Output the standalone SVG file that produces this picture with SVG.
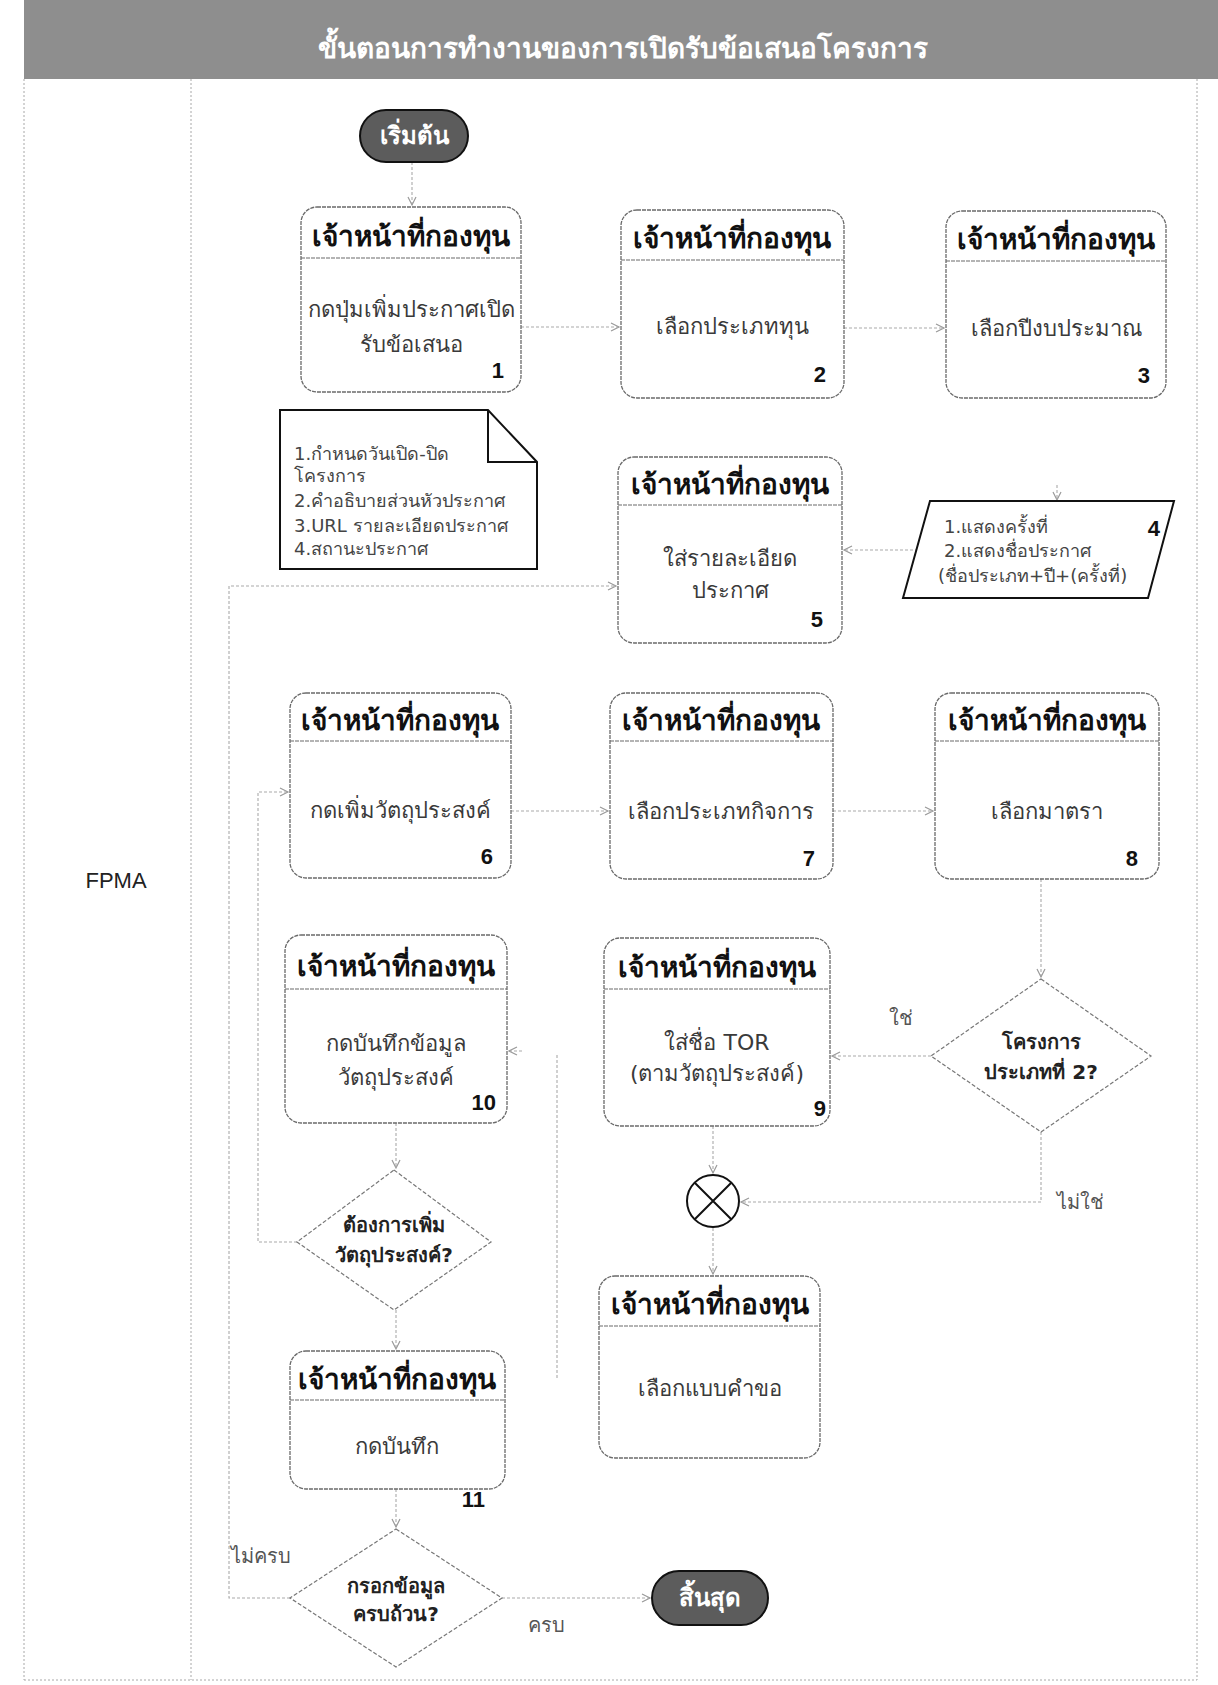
<svg xmlns="http://www.w3.org/2000/svg" width="1218" height="1685" viewBox="0 0 1218 1685">
<defs>
<marker id="arr" markerWidth="12" markerHeight="12" refX="10" refY="6" orient="auto" markerUnits="userSpaceOnUse">
<path d="M2,2 L10,6 L2,10" fill="none" stroke="#9a9a9a" stroke-width="1.2"/>
</marker>
</defs>
<style>
.lane{fill:none;stroke:#a8a8a8;stroke-width:1;stroke-dasharray:2 2}
.box{fill:#fff;stroke:#6a6a6a;stroke-width:1.3;stroke-dasharray:4 1}
.div{stroke:#6a6a6a;stroke-width:1.2;stroke-dasharray:4 1}
.t{font-family:"DejaVu Sans","Noto Sans",sans-serif}
.hdr{font-weight:bold;font-size:28px;fill:#111;text-anchor:middle}
.body{font-size:22px;fill:#3a3a3a;text-anchor:middle}
.num{font-family:"Liberation Sans",Arial,sans-serif;font-weight:bold;font-size:22px;fill:#111;text-anchor:end}
.dia{fill:#fff;stroke:#777;stroke-width:1.2;stroke-dasharray:4 2}
.dtxt{font-weight:bold;font-size:20px;fill:#222;text-anchor:middle}
.note{font-size:18px;fill:#444}
.lbl{font-size:20px;fill:#555}
.conn{fill:none;stroke:#aaa;stroke-width:1.1;stroke-dasharray:3 2;marker-end:url(#arr)}
.plain{fill:none;stroke:#aaa;stroke-width:1.1;stroke-dasharray:3 2}
.term{fill:#5c5c5c;stroke:#111;stroke-width:2}
.ttxt{font-weight:bold;font-size:24px;fill:#fff;text-anchor:middle}
</style>
<rect x="0" y="0" width="1218" height="1685" fill="#fff"/>
<g id="title">
<rect x="24" y="0" width="1194" height="79" fill="#8e8e8e"/>
<text class="t" x="623" y="58" font-size="28" font-weight="bold" fill="#fff" text-anchor="middle">ขั้นตอนการทำงานของการเปิดรับข้อเสนอโครงการ</text>
</g>
<g id="lane">
<line class="lane" x1="24" y1="79" x2="24" y2="1680"/>
<line class="lane" x1="191" y1="79" x2="191" y2="1680"/>
<line class="lane" x1="1197" y1="79" x2="1197" y2="1680"/>
<line class="lane" x1="24" y1="1680" x2="1197" y2="1680"/>
<text x="116" y="888" font-size="22" fill="#222" text-anchor="middle" font-family="Liberation Sans,Arial,sans-serif">FPMA</text>
</g>
<g id="connectors">
<path class="conn" d="M412,162 V205"/>
<path class="conn" d="M521,327 H619"/>
<path class="conn" d="M844,328 H944"/>
<path class="conn" d="M1057,485 V500"/>
<path class="conn" d="M918,550 H844"/>
<path class="conn" d="M511,811 H608"/>
<path class="conn" d="M833,811 H933"/>
<path class="conn" d="M1041,879 V977"/>
<path class="conn" d="M931,1056 H832"/>
<path class="conn" d="M1041,1132 V1202 H741"/>
<path class="conn" d="M713,1126 V1173"/>
<path class="conn" d="M713,1228 V1274"/>
<path class="plain" d="M557,1378 V1053"/>
<path class="conn" d="M522,1051 H509"/>
<path class="conn" d="M396,1123 V1168"/>
<path class="conn" d="M297,1242 H258 V792 H288"/>
<path class="conn" d="M396,1310 V1349"/>
<path class="conn" d="M396,1489 V1527"/>
<path class="conn" d="M290,1598 H229 V586 H616"/>
<path class="conn" d="M502,1598 H650"/>
<text class="t lbl" x="901" y="1025" text-anchor="middle">ใช่</text>
<text class="t lbl" x="1080" y="1209" text-anchor="middle">ไม่ใช่</text>
<text class="t lbl" x="261" y="1563" text-anchor="middle">ไม่ครบ</text>
<text class="t lbl" x="546" y="1632" text-anchor="middle">ครบ</text>
</g>
<g id="start">
<rect class="term" x="360" y="110" width="108" height="52" rx="26"/>
<text class="t ttxt" x="414" y="144">เริ่มต้น</text>
</g>
<g id="n1">
<rect class="box" x="301" y="207" width="220" height="185" rx="16"/>
<line class="div" x1="301" y1="258" x2="521" y2="258"/>
<text class="t hdr" x="411" y="246">เจ้าหน้าที่กองทุน</text>
<text class="t body" x="411" y="317">กดปุ่มเพิ่มประกาศเปิด</text>
<text class="t body" x="411" y="352">รับข้อเสนอ</text>
<text class="num" x="504" y="378">1</text>
</g>
<g id="n2">
<rect class="box" x="621" y="210" width="223" height="188" rx="16"/>
<line class="div" x1="621" y1="260" x2="844" y2="260"/>
<text class="t hdr" x="732" y="248">เจ้าหน้าที่กองทุน</text>
<text class="t body" x="732" y="334">เลือกประเภททุน</text>
<text class="num" x="826" y="382">2</text>
</g>
<g id="n3">
<rect class="box" x="946" y="211" width="220" height="187" rx="16"/>
<line class="div" x1="946" y1="261" x2="1166" y2="261"/>
<text class="t hdr" x="1056" y="249">เจ้าหน้าที่กองทุน</text>
<text class="t body" x="1056" y="336">เลือกปีงบประมาณ</text>
<text class="num" x="1150" y="383">3</text>
</g>
<g id="note">
<path d="M280,410 H488 L537,462 V569 H280 Z" fill="#fff" stroke="#111" stroke-width="2"/>
<path d="M488,410 V462 H537" fill="none" stroke="#111" stroke-width="2"/>
<text class="t note" x="294" y="460">1.กำหนดวันเปิด-ปิด</text>
<text class="t note" x="294" y="482">โครงการ</text>
<text class="t note" x="294" y="507">2.คำอธิบายส่วนหัวประกาศ</text>
<text class="t note" x="294" y="532">3.URL รายละเอียดประกาศ</text>
<text class="t note" x="294" y="555">4.สถานะประกาศ</text>
</g>
<g id="n4">
<path d="M930,501 H1174 L1148,598 H903 Z" fill="#fff" stroke="#111" stroke-width="2"/>
<text class="t note" x="944" y="533">1.แสดงครั้งที่</text>
<text class="t note" x="944" y="557">2.แสดงชื่อประกาศ</text>
<text class="t note" x="938" y="582">(ชื่อประเภท+ปี+(ครั้งที่)</text>
<text class="num" x="1160" y="536">4</text>
</g>
<g id="n5">
<rect class="box" x="618" y="457" width="224" height="186" rx="16"/>
<line class="div" x1="618" y1="505" x2="842" y2="505"/>
<text class="t hdr" x="730" y="494">เจ้าหน้าที่กองทุน</text>
<text class="t body" x="730" y="566">ใส่รายละเอียด</text>
<text class="t body" x="730" y="598">ประกาศ</text>
<text class="num" x="823" y="627">5</text>
</g>
<g id="n6">
<rect class="box" x="290" y="693" width="221" height="185" rx="16"/>
<line class="div" x1="290" y1="741" x2="511" y2="741"/>
<text class="t hdr" x="400" y="730">เจ้าหน้าที่กองทุน</text>
<text class="t body" x="400" y="818">กดเพิ่มวัตถุประสงค์</text>
<text class="num" x="493" y="864">6</text>
</g>
<g id="n7">
<rect class="box" x="610" y="693" width="223" height="186" rx="16"/>
<line class="div" x1="610" y1="741" x2="833" y2="741"/>
<text class="t hdr" x="721" y="730">เจ้าหน้าที่กองทุน</text>
<text class="t body" x="721" y="819">เลือกประเภทกิจการ</text>
<text class="num" x="815" y="866">7</text>
</g>
<g id="n8">
<rect class="box" x="935" y="693" width="224" height="186" rx="16"/>
<line class="div" x1="935" y1="741" x2="1159" y2="741"/>
<text class="t hdr" x="1047" y="730">เจ้าหน้าที่กองทุน</text>
<text class="t body" x="1047" y="819">เลือกมาตรา</text>
<text class="num" x="1138" y="866">8</text>
</g>
<g id="d1">
<path class="dia" d="M1041,979 L1151,1056 L1041,1132 L931,1056 Z"/>
<text class="t dtxt" x="1041" y="1049">โครงการ</text>
<text class="t dtxt" x="1041" y="1079">ประเภทที่ 2?</text>
</g>
<g id="n9">
<rect class="box" x="604" y="938" width="226" height="188" rx="16"/>
<line class="div" x1="604" y1="989" x2="830" y2="989"/>
<text class="t hdr" x="717" y="977">เจ้าหน้าที่กองทุน</text>
<text class="t body" x="717" y="1050">ใส่ชื่อ TOR</text>
<text class="t body" x="717" y="1081">(ตามวัตถุประสงค์)</text>
<text class="num" x="826" y="1116">9</text>
</g>
<g id="merge">
<circle cx="713" cy="1201" r="26" fill="#fff" stroke="#111" stroke-width="2"/>
<path d="M695,1183 L731,1219 M731,1183 L695,1219" stroke="#111" stroke-width="2"/>
</g>
<g id="n12">
<rect class="box" x="599" y="1276" width="221" height="182" rx="16"/>
<line class="div" x1="599" y1="1326" x2="820" y2="1326"/>
<text class="t hdr" x="710" y="1314">เจ้าหน้าที่กองทุน</text>
<text class="t body" x="710" y="1396">เลือกแบบคำขอ</text>
</g>
<g id="n10">
<rect class="box" x="285" y="935" width="222" height="188" rx="16"/>
<line class="div" x1="285" y1="989" x2="507" y2="989"/>
<text class="t hdr" x="396" y="976">เจ้าหน้าที่กองทุน</text>
<text class="t body" x="396" y="1051">กดบันทึกข้อมูล</text>
<text class="t body" x="396" y="1085">วัตถุประสงค์</text>
<text class="num" x="496" y="1110">10</text>
</g>
<g id="d2">
<path class="dia" d="M394,1170 L491,1242 L394,1310 L297,1242 Z"/>
<text class="t dtxt" x="394" y="1232">ต้องการเพิ่ม</text>
<text class="t dtxt" x="394" y="1262">วัตถุประสงค์?</text>
</g>
<g id="n11">
<rect class="box" x="290" y="1351" width="215" height="138" rx="16"/>
<line class="div" x1="290" y1="1400" x2="505" y2="1400"/>
<text class="t hdr" x="397" y="1389">เจ้าหน้าที่กองทุน</text>
<text class="t body" x="397" y="1454">กดบันทึก</text>
<text class="num" x="485" y="1507">11</text>
</g>
<g id="d3">
<path class="dia" d="M396,1529 L502,1598 L396,1667 L290,1598 Z"/>
<text class="t dtxt" x="396" y="1593">กรอกข้อมูล</text>
<text class="t dtxt" x="396" y="1621">ครบถ้วน?</text>
</g>
<g id="end">
<rect class="term" x="652" y="1571" width="116" height="54" rx="27"/>
<text class="t ttxt" x="710" y="1606">สิ้นสุด</text>
</g>
</svg>
